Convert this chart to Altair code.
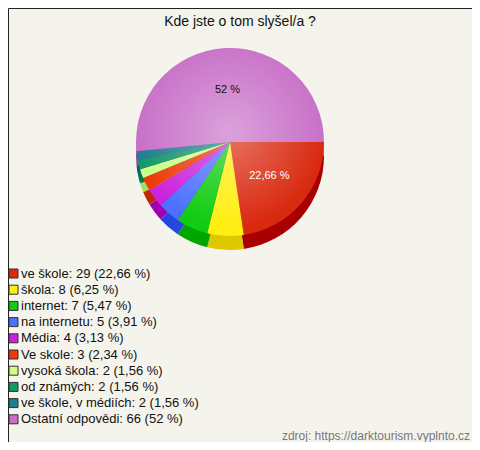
import math
import altair as alt
import pandas as pd

categories = ["ve škole", "škola", "internet", "na internetu", "Média", "Ve skole",
              "vysoká škola", "od známých", "ve škole, v médiích", "Ostatní odpovědi"]
counts = [29, 8, 7, 5, 4, 3, 2, 2, 2, 66]
percents = ["22,66", "6,25", "5,47", "3,91", "3,13", "2,34", "1,56", "1,56", "1,56", "52"]
pie_labels = ["22,66 %", "", "", "", "", "", "", "", "", "52 %"]

top_colors = ["#d92a10", "#ffee11", "#11cc11", "#4d70ff", "#cc22dd", "#ee3a08",
              "#ccff88", "#129966", "#1d7f8f", "#c870c8"]
side_colors = ["#a80000", "#e0c800", "#00a600", "#2447dd", "#a000b0", "#c02800",
               "#a8dd60", "#007744", "#0d5d6a", "#9a4a9a"]

title_text = "Kde jste o tom slyšel/a ?"
source_text = "zdroj: https://darktourism.vyplnto.cz"

legend_labels = [f"{c}: {n} ({p} %)" for c, n, p in zip(categories, counts, percents)]

df = pd.DataFrame({
    "idx": list(range(len(categories))),
    "label": legend_labels,
    "count": counts,
    "pie_label": pie_labels,
})

W, H = 464, 434
CX, CY = 222, 134
R = 94
DEPTH = 14
FONT = "Liberation Sans"

theta_scale = alt.Scale(range=[math.pi / 2, math.pi / 2 + 2 * math.pi])

base = alt.Chart(df)

side = base.mark_arc(outerRadius=R).encode(
    theta=alt.Theta("count:Q", stack=True, scale=theta_scale),
    fill=alt.Fill("label:N", scale=alt.Scale(domain=legend_labels, range=side_colors), legend=None),
    order=alt.Order("idx:Q"),
    x=alt.value(CX),
    y=alt.value(CY + DEPTH),
)

top = base.mark_arc(outerRadius=R).encode(
    theta=alt.Theta("count:Q", stack=True, scale=theta_scale),
    color=alt.Color(
        "label:N",
        scale=alt.Scale(domain=legend_labels, range=top_colors),
        legend=alt.Legend(
            title=None, orient="none", legendX=-1, legendY=259,
            symbolType="square", symbolSize=81, symbolStrokeColor="#333333",
            symbolStrokeWidth=1, symbolOpacity=1,
            labelFont=FONT, labelFontSize=13, labelColor="#111111",
            labelLimit=400, rowPadding=2.2, symbolOffset=0, labelOffset=1,
            padding=0,
        ),
    ),
    order=alt.Order("idx:Q"),
    x=alt.value(CX),
    y=alt.value(CY),
)

shine = alt.Chart(alt.Data(values=[{"a": 1}])).mark_arc(
    outerRadius=R, theta=0, theta2=2 * math.pi,
    fill=alt.RadialGradient(
        gradient="radial", x1=0.5, y1=0.45, x2=0.5, y2=0.45, r1=0, r2=0.5,
        stops=[alt.GradientStop(offset=0, color="rgba(255,255,255,0.35)"),
               alt.GradientStop(offset=1, color="rgba(255,255,255,0)")],
    ),
).encode(x=alt.value(CX), y=alt.value(CY))

labels = base.mark_text(radius=52, font=FONT, fontSize=11).encode(
    theta=alt.Theta("count:Q", stack=True, scale=theta_scale),
    text="pie_label:N",
    order=alt.Order("idx:Q"),
    color=alt.condition("datum.idx == 0", alt.value("white"), alt.value("#111111")),
    x=alt.value(CX),
    y=alt.value(CY),
)

title = alt.Chart(alt.Data(values=[{"t": title_text}])).mark_text(
    font=FONT, fontSize=14, color="#111111", align="center", baseline="alphabetic"
).encode(text="t:N", x=alt.value(232), y=alt.value(18))

source = alt.Chart(alt.Data(values=[{"t": source_text}])).mark_text(
    font=FONT, fontSize=12, color="#777777", align="right", baseline="alphabetic"
).encode(text="t:N", x=alt.value(462), y=alt.value(432))

chart = alt.layer(side, top, shine, labels, title, source).resolve_scale(
    fill="independent"
).properties(
    width=W, height=H, autosize=alt.AutoSizeParams(type="none"), padding=0,
    background="#f5f4ec",
).configure_view(stroke="#222222", strokeWidth=1)

chart.save("out.html", embed_options={"renderer": "svg", "actions": False})
